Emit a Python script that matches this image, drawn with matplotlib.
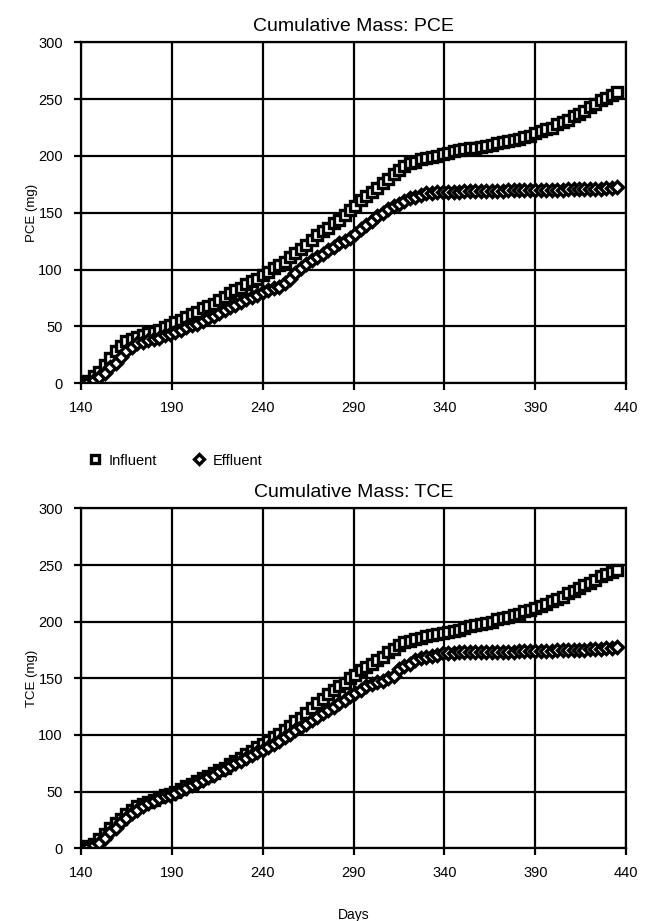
import matplotlib.pyplot as plt

plt.rcParams['font.family'] = ['Liberation Sans', 'DejaVu Sans']

days = [141, 144, 147, 150, 153, 156, 159, 162, 165, 168, 171, 174, 177, 180, 183,
        186, 189, 192, 195, 198, 201, 204, 207, 210, 213, 216, 219, 222, 225, 228,
        231, 234, 237, 240, 243, 246, 249, 252, 255, 258, 261, 264, 267, 270, 273,
        276, 279, 282, 285, 288, 291, 294, 297, 300, 303, 306, 309, 312, 315, 318,
        321, 324, 327, 330, 333, 336, 339, 342, 345, 348, 351, 354, 357, 360, 363,
        366, 369, 372, 375, 378, 381, 384, 387, 390, 393, 396, 399, 402, 405, 408,
        411, 414, 417, 420, 423, 426, 429, 432, 435]

pce_in = [0, 2, 6, 10, 16, 22, 28, 33, 37, 39, 41, 42, 44, 45, 47,
          49, 51, 54, 56, 58, 61, 63, 66, 68, 70, 73, 76, 79, 82, 84,
          87, 90, 92, 95, 98, 101, 104, 107, 111, 115, 118, 122, 126, 130, 134,
          137, 141, 144, 148, 152, 156, 161, 165, 168, 172, 176, 180, 184, 188, 191,
          194, 195, 197, 198, 199, 200, 202, 203, 204, 205, 206, 207, 207, 208, 209,
          210, 211, 212, 213, 214, 215, 217, 218, 220, 222, 224, 225, 228, 230, 232,
          235, 237, 240, 243, 246, 249, 251, 254, 256]

pce_eff = [0, 1, 3, 5, 9, 14, 18, 23, 28, 32, 35, 36, 38, 39, 40,
           42, 43, 45, 47, 49, 51, 52, 55, 57, 59, 62, 64, 67, 69, 71,
           74, 76, 78, 80, 82, 84, 85, 88, 92, 97, 101, 105, 108, 111, 114,
           117, 120, 123, 125, 128, 131, 136, 139, 143, 147, 150, 153, 156, 158, 160,
           163, 164, 166, 167, 167, 168, 168, 168, 168, 168, 169, 169, 169, 169, 169,
           169, 169, 169, 170, 170, 170, 170, 170, 170, 170, 170, 170, 170, 170, 171,
           171, 171, 171, 171, 171, 171, 172, 172, 173]

tce_in = [0, 2, 4, 8, 13, 18, 22, 26, 30, 34, 37, 39, 41, 43, 45,
          47, 48, 50, 52, 55, 57, 59, 62, 64, 66, 69, 71, 74, 77, 80,
          83, 86, 89, 92, 95, 98, 101, 104, 108, 112, 115, 119, 124, 128, 132,
          136, 140, 143, 146, 150, 153, 157, 160, 163, 166, 169, 173, 176, 179, 182,
          183, 185, 186, 187, 188, 189, 190, 191, 192, 193, 194, 196, 197, 198, 199,
          200, 202, 203, 204, 206, 207, 209, 210, 212, 214, 216, 218, 220, 222, 225,
          227, 230, 232, 234, 237, 240, 242, 244, 246]

tce_eff = [0, 1, 3, 5, 9, 14, 18, 23, 27, 31, 34, 37, 40, 42, 44,
           46, 47, 49, 51, 53, 56, 58, 60, 63, 65, 68, 70, 73, 75, 77,
           80, 82, 85, 87, 89, 92, 95, 98, 101, 104, 107, 110, 113, 116, 119,
           122, 125, 128, 131, 134, 137, 140, 143, 145, 147, 148, 150, 152, 158, 161,
           163, 166, 168, 169, 170, 171, 172, 172, 172, 173, 173, 173, 173, 173, 173,
           173, 173, 173, 173, 173, 174, 174, 174, 174, 174, 174, 174, 175, 175, 175,
           175, 175, 175, 176, 176, 176, 177, 177, 178]

fig = plt.figure(figsize=(6.53, 9.21), dpi=100)
ax1 = fig.add_axes([0.124, 0.584, 0.835, 0.370])
ax2 = fig.add_axes([0.124, 0.079, 0.835, 0.369])

mk = dict(linestyle='none', markersize=7.5, markeredgewidth=2.4,
          markeredgecolor='black', markerfacecolor='white')

for ax, inf, eff, name in [(ax1, pce_in, pce_eff, 'PCE'), (ax2, tce_in, tce_eff, 'TCE')]:
    ax.plot(days, inf, marker='s', label='Influent', **mk)
    ax.plot(days, eff, marker='D', label='Effluent', **dict(mk, markersize=6.5))
    ax.set_xlim(140, 440)
    ax.set_ylim(0, 300)
    ax.set_xticks(range(140, 441, 50))
    ax.set_yticks(range(0, 301, 50))
    ax.grid(True, color='black', lw=1.6)
    ax.set_axisbelow(True)
    for s in ax.spines.values():
        s.set_linewidth(1.6)
    ax.tick_params(direction='out', length=5, width=1.6, labelsize=10.5, pad=8)
    ax.set_title('Cumulative Mass: ' + name, fontsize=14, pad=8)
    ax.set_ylabel(name + ' (mg)', fontsize=9.5, labelpad=0)

ax2.set_xlabel('Days', fontsize=10, labelpad=20)

h, l = ax1.get_legend_handles_labels()
fig.legend(h, l, loc='center left', bbox_to_anchor=(0.115, 0.5), ncol=2, frameon=False,
           fontsize=10.5, handlelength=0.9, handletextpad=0.5, columnspacing=2.4,
           markerscale=0.75)

fig.savefig('out.png', dpi=100)
